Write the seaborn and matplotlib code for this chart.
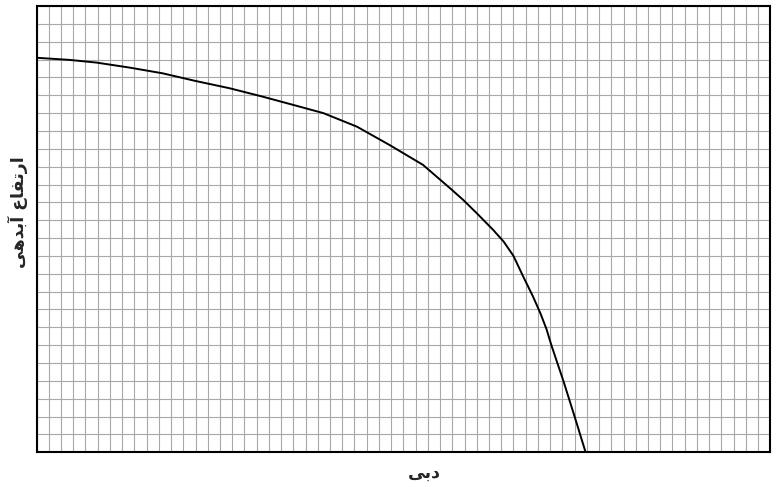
import numpy as np
import pandas as pd
import matplotlib
matplotlib.use("Agg")
import matplotlib.pyplot as plt
import seaborn as sns

# pump curve (grid units)
flow = [0, 2.7, 4.9, 7.6, 10.3, 13.0, 15.8, 18.5, 21.2, 23.45, 26.2, 28.9,
        31.6, 33.8, 34.9, 36.0, 37.35, 38.2, 39.0, 39.8, 40.6, 41.2, 41.7,
        42.1, 43.1, 44.0, 44.9]
head = [22.1, 21.98, 21.83, 21.55, 21.23, 20.8, 20.39, 19.92, 19.42, 19.0, 18.24, 17.2,
        16.1, 14.8, 14.13, 13.39, 12.45, 11.8, 11.0, 9.84, 8.72, 7.79, 6.9,
        6.0, 3.96, 2.0, 0]

x_cells = 60
y_cells = 25

# Persian labels, pre-shaped (presentation forms, visual order)
x_label = "\ufbfd\ufe91\ufea9"  # دبی
y_label = "\ufbfd\ufeeb\ufeaa\ufe91\u0622 \ufec9\ufe8e\ufed4\ufe97\ufead\ufe8d"  # ارتفاع آبدهی

df = pd.DataFrame({"flow": flow, "head": head})

sns.set_style("white")
plt.rcParams['font.family'] = ['DejaVu Sans']

fig = plt.figure(figsize=(7.79, 4.87), dpi=100)
ax = fig.add_axes([0.0469, 0.0713, 0.9419, 0.9164])

sns.lineplot(data=df, x="flow", y="head", sort=False, color="black", linewidth=1.4, ax=ax)

ax.set_xlim(0, x_cells)
ax.set_ylim(0, y_cells)
ax.set_xticks(np.arange(0, x_cells + 1))
ax.set_yticks(np.arange(0, y_cells + 1))
ax.set_xticklabels([])
ax.set_yticklabels([])
ax.tick_params(length=0)
ax.grid(True, color="#a8a8a8", linewidth=0.8)
ax.set_axisbelow(True)

for s in ax.spines.values():
    s.set_visible(True)
    s.set_color("black")
    s.set_linewidth(1.5)

ax.set_xlabel(x_label, fontsize=12.5, fontweight="bold", va="center")
ax.xaxis.set_label_coords(0.528, -0.046, transform=ax.transAxes)
ax.set_ylabel(y_label, fontsize=12.5, fontweight="bold", va="center")
ax.yaxis.set_label_coords(-0.025, 0.538, transform=ax.transAxes)

fig.savefig("out.png", dpi=100)
plt.close(fig)
